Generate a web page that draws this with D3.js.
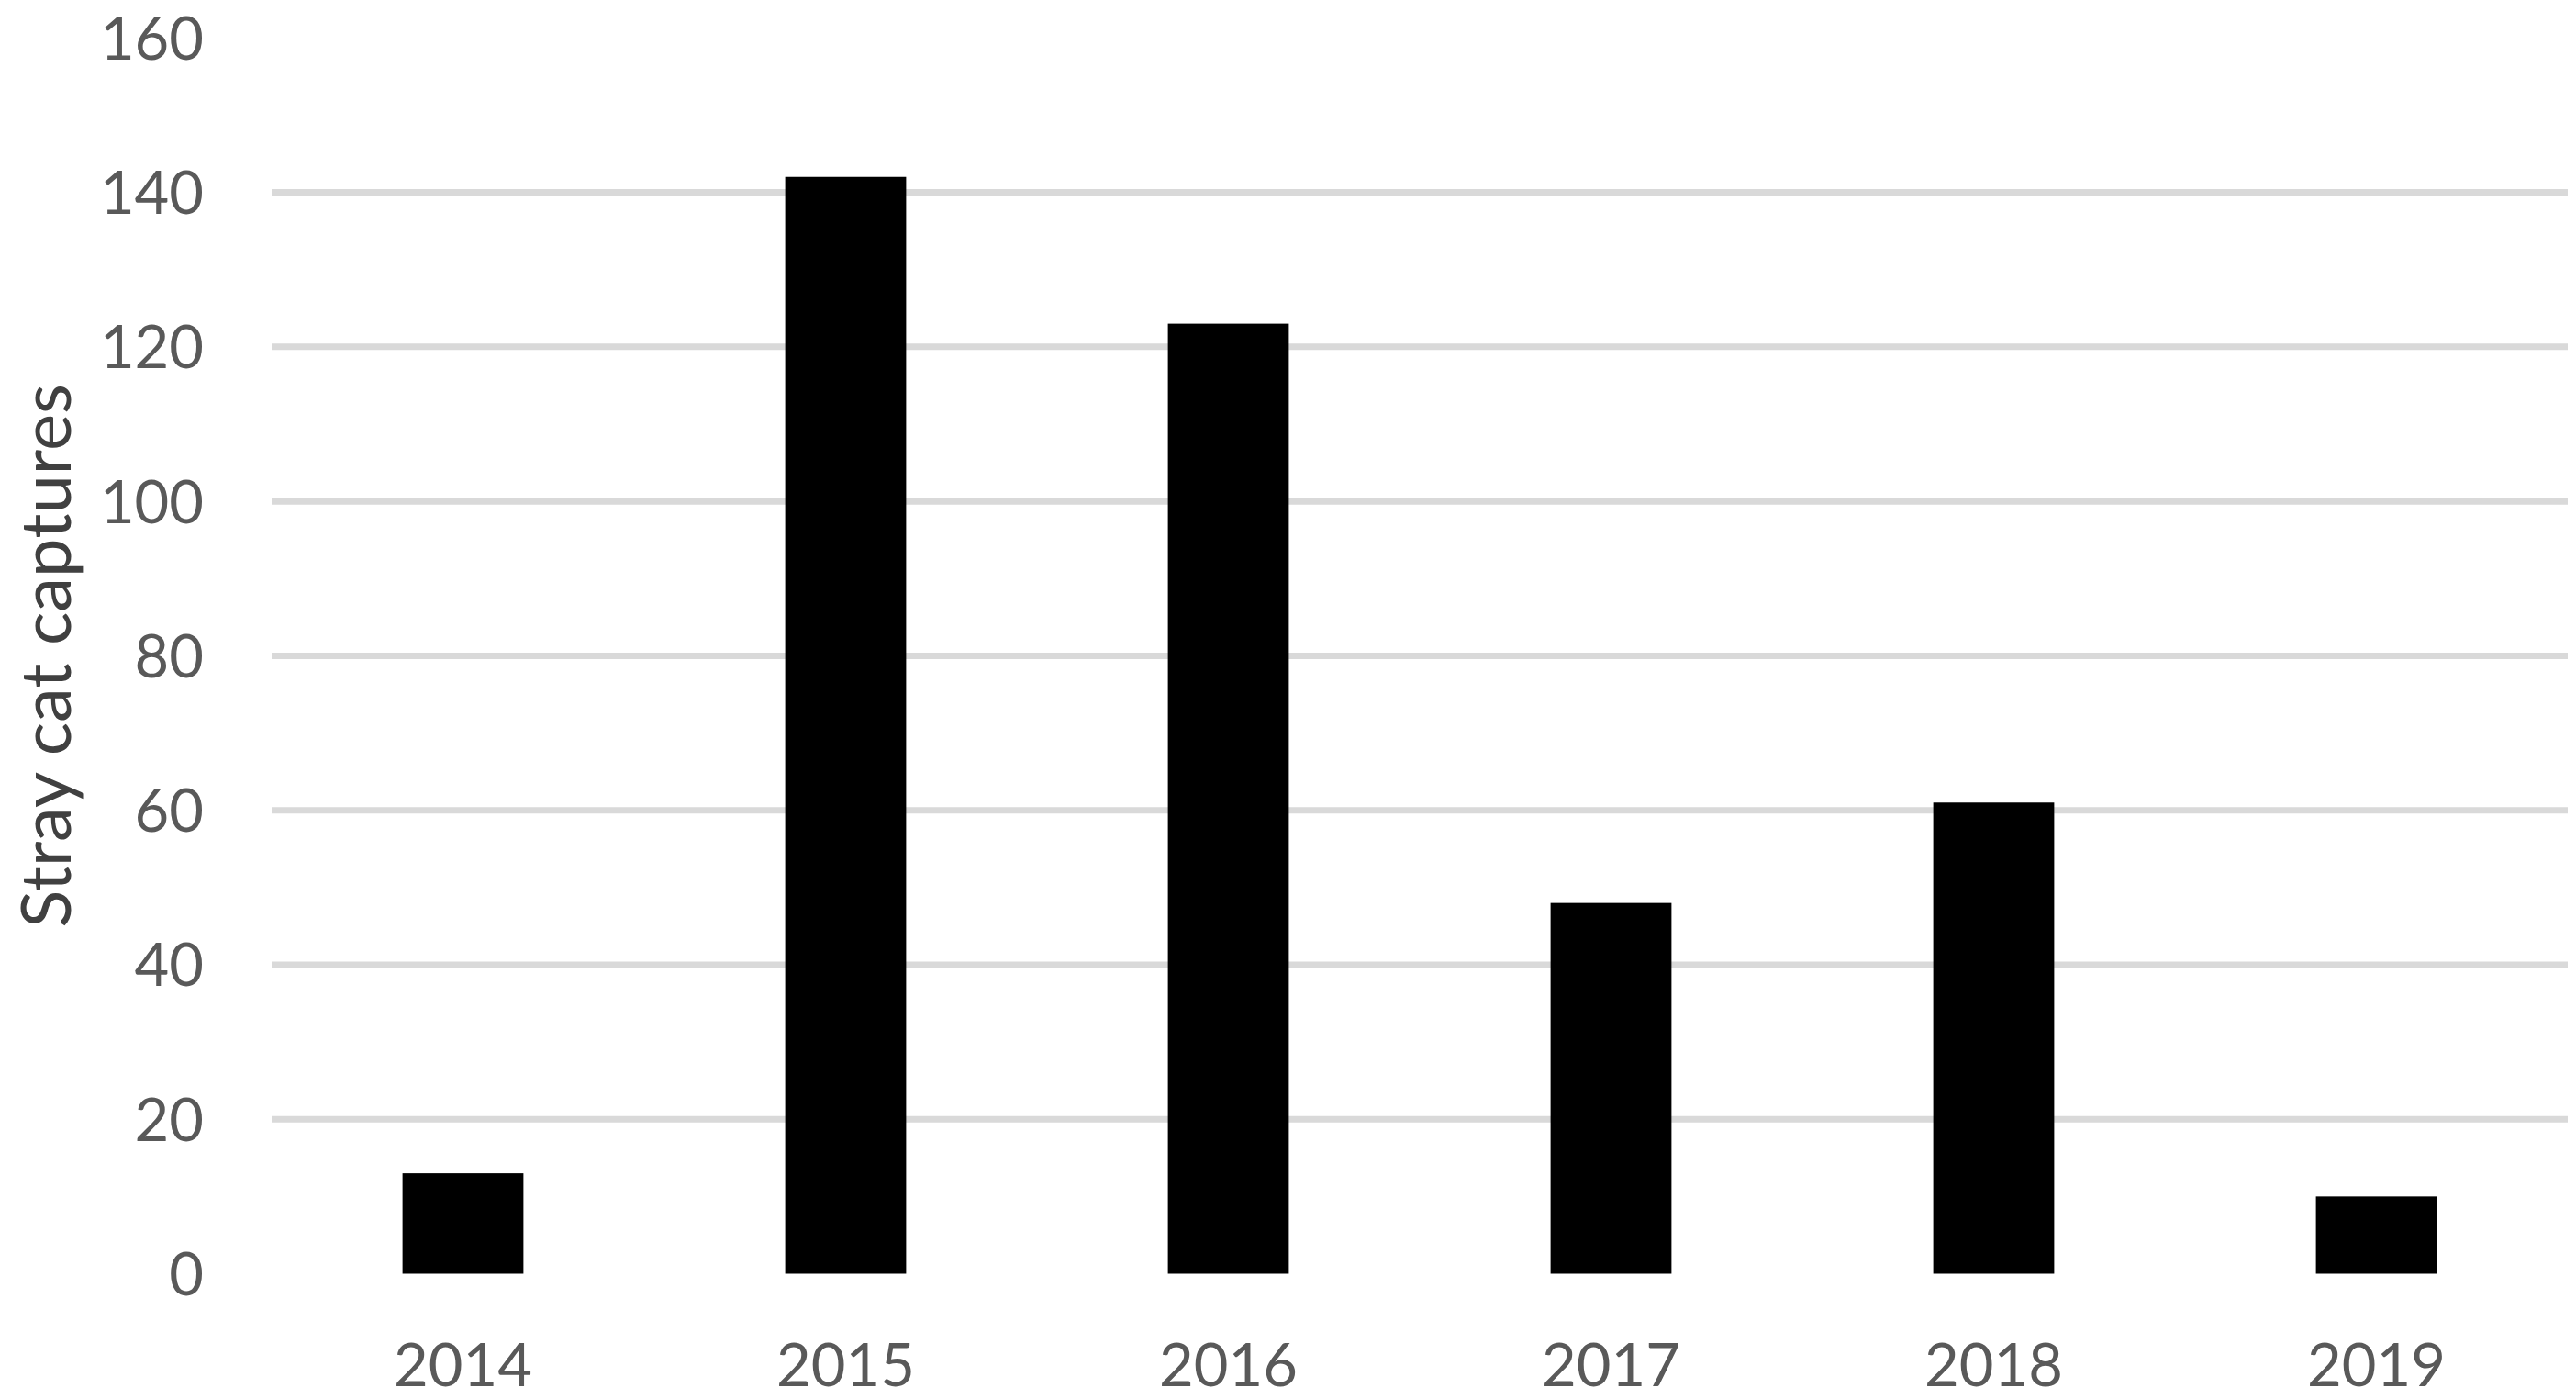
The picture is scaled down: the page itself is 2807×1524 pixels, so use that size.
<!DOCTYPE html>
<html>
<head>
<meta charset="utf-8">
<script src="https://cdn.jsdelivr.net/npm/d3@7"></script>
<style>
  html, body { margin: 0; padding: 0; background: #ffffff; }
  svg { display: block; }
  text { font-family: Lato, "Open Sans", sans-serif; }
</style>
</head>
<body>
<script>
const years = ["2014", "2015", "2016", "2017", "2018", "2019"];
const captures = [13, 142, 123, 48, 61, 10];
const yTicks = [0, 20, 40, 60, 80, 100, 120, 140, 160];
const gridValues = [20, 40, 60, 80, 100, 120, 140];
const yTitle = "Stray cat captures";

const W = 2807, H = 1524;
const svg = d3.select("body").append("svg").attr("width", W).attr("height", H);

const x = d3.scaleBand().domain(years).range([296, 2798])
  .paddingInner(0.684).paddingOuter(0.342);
const y = d3.scaleLinear().domain([0, 160]).range([1387.5, 41.3]);

// gridlines
svg.append("g").selectAll("line").data(gridValues).join("line")
  .attr("x1", 296).attr("x2", 2798)
  .attr("y1", d => y(d)).attr("y2", d => y(d))
  .attr("stroke", "#d9d9d9").attr("stroke-width", 7);

// bars
svg.append("g").selectAll("rect").data(years).join("rect")
  .attr("x", (d) => x(d))
  .attr("width", x.bandwidth())
  .attr("y", (d, i) => y(captures[i]))
  .attr("height", (d, i) => y(0) - y(captures[i]))
  .attr("fill", "#000000");

// y axis labels
const yAxis = d3.axisLeft(y).tickValues(yTicks).tickSize(0).tickPadding(0);
const gy = svg.append("g").attr("transform", "translate(222,0)").call(yAxis);
gy.select(".domain").remove();
gy.selectAll("text")
  .attr("font-family", "Lato, 'Open Sans', sans-serif")
  .attr("font-size", 65).attr("fill", "#595959")
  .attr("dy", null).attr("x", 0).attr("y", 23)
  .attr("text-anchor", "end");

// x axis labels
const xAxis = d3.axisBottom(x).tickSize(0).tickPadding(0);
const gx = svg.append("g").attr("transform", "translate(0,1510)").call(xAxis);
gx.select(".domain").remove();
gx.selectAll("text")
  .attr("font-family", "Lato, 'Open Sans', sans-serif")
  .attr("font-size", 65).attr("fill", "#595959")
  .attr("dy", null).attr("y", 0)
  .attr("text-anchor", "middle");

// y title
svg.append("text")
  .attr("transform", `translate(77,${(y(0) + y(160)) / 2}) rotate(-90)`)
  .attr("text-anchor", "middle")
  .attr("font-size", 76).attr("fill", "#404040")
  .text(yTitle);
</script>
</body>
</html>
